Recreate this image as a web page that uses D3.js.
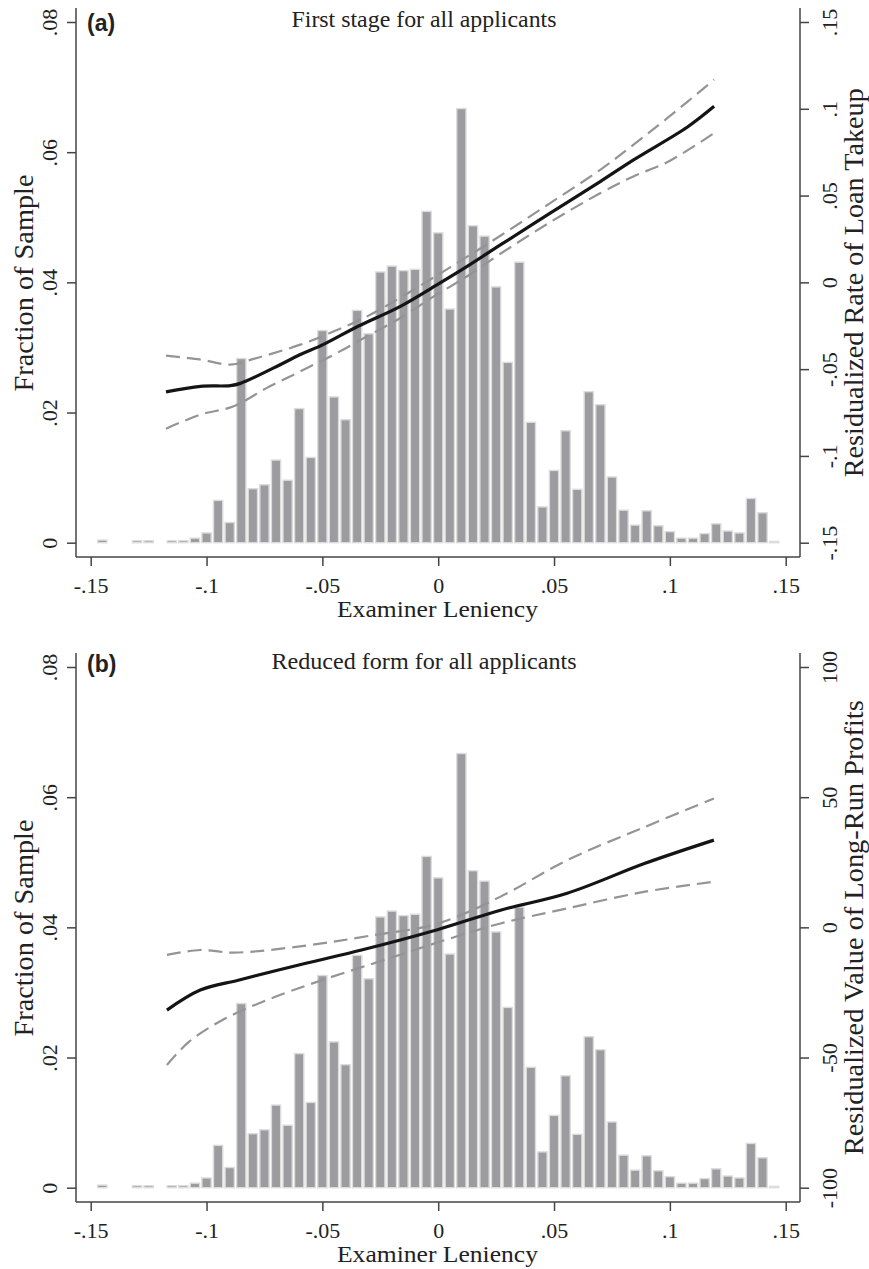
<!DOCTYPE html>
<html>
<head>
<meta charset="utf-8">
<script src="https://cdnjs.cloudflare.com/ajax/libs/d3/7.8.5/d3.min.js"></script>
<style>
  body { margin: 0; background: #fff; }
</style>
</head>
<body>
<div id="chart"></div>
<script>
// histogram: bin centres (examiner leniency) and fraction of sample
var binCenters = [-0.145,-0.14,-0.135,-0.13,-0.125,-0.12,-0.115,-0.11,-0.105,-0.1,
  -0.095,-0.09,-0.085,-0.08,-0.075,-0.07,-0.065,-0.06,-0.055,-0.05,
  -0.045,-0.04,-0.035,-0.03,-0.025,-0.02,-0.015,-0.01,-0.005,0,
  0.005,0.01,0.015,0.02,0.025,0.03,0.035,0.04,0.045,0.05,
  0.055,0.06,0.065,0.07,0.075,0.08,0.085,0.09,0.095,0.1,
  0.105,0.11,0.115,0.12,0.125,0.13,0.135,0.14,0.145];
var binFractions = [0.0004,0,0,0.0003,0.0003,0,0.0003,0.0003,0.0007,0.0015,
  0.0065,0.0031,0.0283,0.0083,0.0089,0.0127,0.0096,0.0206,0.0131,0.0326,
  0.0224,0.0189,0.0357,0.0321,0.0416,0.0425,0.0418,0.0420,0.0509,0.0476,
  0.0359,0.0667,0.0487,0.0471,0.0393,0.0277,0.0431,0.0185,0.0055,0.0111,
  0.0172,0.0082,0.0232,0.0212,0.0101,0.0050,0.0027,0.0049,0.0026,0.0017,
  0.0007,0.0007,0.0014,0.0029,0.0018,0.0015,0.0068,0.0046,0.0002];

var xTicks = [-0.15,-0.1,-0.05,0,0.05,0.1,0.15];
var xTickLabels = ["-.15","-.1","-.05","0",".05",".1",".15"];
var leftTicks = [0,0.02,0.04,0.06,0.08];
var leftTickLabels = ["0",".02",".04",".06",".08"];

// panel a: first stage (residualized rate of loan takeup)
var rightTicksA = [-0.15,-0.1,-0.05,0,0.05,0.1,0.15];
var rightTickLabelsA = ["-.15","-.1","-.05","0",".05",".1",".15"];
var fitA = [[-0.1175,-0.0631],[-0.1026,-0.0599],[-0.0897,-0.0595],[-0.0854,-0.0582],[-0.071,-0.0493],
  [-0.0595,-0.0416],[-0.0497,-0.0359],[-0.0346,-0.0253],[-0.0163,-0.0138],[-0.0004,-0.0013],
  [0.0125,0.0092],[0.027,0.0217],[0.0485,0.040],[0.0701,0.0582],[0.0845,0.0707],[0.1076,0.0895],[0.1191,0.1014]];
var upperA = [[-0.1175,-0.0422],[-0.1026,-0.0445],[-0.0897,-0.0474],[-0.0797,-0.0441],[-0.0595,-0.0359],
  [-0.045,-0.0282],[-0.0307,-0.0196],[-0.0163,-0.0088],[0.0053,0.0088],[0.027,0.027],
  [0.0485,0.0458],[0.0701,0.065],[0.0845,0.0795],[0.099,0.0947],[0.1191,0.1168]];
var lowerA = [[-0.1175,-0.0843],[-0.1026,-0.0762],[-0.0883,-0.0714],[-0.0739,-0.0608],[-0.0595,-0.0513],
  [-0.045,-0.0416],[-0.0307,-0.0311],[-0.0163,-0.0205],[-0.0019,-0.0081],[0.0125,0.0035],
  [0.027,0.0166],[0.0485,0.0348],[0.0701,0.0515],[0.0845,0.0612],[0.099,0.0693],[0.1191,0.086]];

// panel b: reduced form (residualized value of long-run profits)
var rightTicksB = [-100,-50,0,50,100];
var rightTickLabelsB = ["-100","-50","0","50","100"];
var fitB = [[-0.1171,-31.8],[-0.1027,-24.1],[-0.0859,-20.2],[-0.0571,-13.8],[-0.0331,-8.7],
  [0.0,-0.8],[0.0269,6.6],[0.0557,13.1],[0.0893,24.6],[0.119,33.5]];
var upperB = [[-0.1171,-10.6],[-0.1027,-8.7],[-0.0883,-9.7],[-0.0571,-7.0],[-0.03,-3.3],
  [0.0,1.5],[0.0269,11.8],[0.0557,25.8],[0.0893,38.6],[0.119,49.5]];
var lowerB = [[-0.1171,-52.9],[-0.1075,-43.9],[-0.0931,-35.6],[-0.0739,-27.9],[-0.0499,-20.2],
  [-0.0211,-11.9],[0.0029,-4.9],[0.0269,1.5],[0.0557,7.3],[0.0893,13.7],[0.119,17.5]];

var svg = d3.select("#chart").append("svg")
    .attr("width", 869)
    .attr("height", 1269);

var serif = "'Liberation Serif','Times New Roman',serif";
var axisColor = "#444";

function drawPanel(p) {
  var g = svg.append("g").attr("transform", "translate(0," + p.top + ")");

  var x = d3.scaleLinear().domain([-0.15, 0.15]).range([90.7, 785.7]);
  var y = d3.scaleLinear().domain([0, 0.08]).range([542.7, 22]);
  var y2 = d3.scaleLinear().domain(p.rightDomain).range([542.7, 22]);
  var binW = x(0.005) - x(0);

  var bins = binCenters.map(function(c, i) { return {c: c, v: binFractions[i]}; })
    .filter(function(d) { return d.v > 0; });

  //bars
  g.append("g").selectAll("rect")
    .data(bins)
    .enter().append("rect")
      .attr("x", function(d) { return x(d.c) - binW * 0.4; })
      .attr("width", binW * 0.8)
      .attr("y", function(d) { return y(d.v); })
      .attr("height", function(d) { return y(0) - y(d.v); })
      .attr("fill", "#9b9ba0")
      .attr("stroke", "#dcdcdc")
      .attr("stroke-width", 1.4);

  //fit and confidence band
  var line = d3.line()
    .x(function(d) { return x(d[0]); })
    .y(function(d) { return y2(d[1]); })
    .curve(d3.curveCatmullRom.alpha(0.5));

  [p.upper, p.lower].forEach(function(s) {
    g.append("path").datum(s)
      .attr("d", line)
      .attr("fill", "none")
      .attr("stroke", "#949494")
      .attr("stroke-width", 2.2)
      .attr("stroke-dasharray", "14,7");
  });
  g.append("path").datum(p.fit)
    .attr("d", line)
    .attr("fill", "none")
    .attr("stroke", "#141414")
    .attr("stroke-width", 3.2);

  //axis lines
  var frame = [[76, 8, 76, 557], [76, 557, 800, 557], [800, 8, 800, 557]];
  frame.forEach(function(f) {
    g.append("line")
      .attr("x1", f[0]).attr("y1", f[1]).attr("x2", f[2]).attr("y2", f[3])
      .attr("stroke", axisColor).attr("stroke-width", 1.5);
  });

  //x-axis
  var xa = g.append("g")
    .attr("transform", "translate(0,557)")
    .call(d3.axisBottom(x).tickValues(xTicks).tickSize(9)
      .tickFormat(function(d, i) { return xTickLabels[i]; }));
  xa.select(".domain").remove();
  xa.selectAll("line").attr("stroke", axisColor).attr("stroke-width", 1.5);
  xa.selectAll("text")
    .attr("y", 36).attr("dy", 0)
    .attr("fill", "#222")
    .style("font-family", serif).style("font-size", "22px");

  //left y-axis
  var ya = g.append("g")
    .attr("transform", "translate(76,0)")
    .call(d3.axisLeft(y).tickValues(leftTicks).tickSize(9)
      .tickFormat(function(d, i) { return leftTickLabels[i]; }));
  ya.select(".domain").remove();
  ya.selectAll("line").attr("stroke", axisColor).attr("stroke-width", 1.5);
  ya.selectAll("text")
    .attr("transform", "rotate(-90)")
    .attr("x", 0).attr("y", -19.5).attr("dy", 0)
    .attr("text-anchor", "middle")
    .attr("fill", "#222")
    .style("font-family", serif).style("font-size", "22px");

  //right y-axis
  var ra = g.append("g")
    .attr("transform", "translate(800,0)")
    .call(d3.axisRight(y2).tickValues(p.rightTicks).tickSize(9)
      .tickFormat(function(d, i) { return p.rightTickLabels[i]; }));
  ra.select(".domain").remove();
  ra.selectAll("line").attr("stroke", axisColor).attr("stroke-width", 1.5);
  ra.selectAll("text")
    .attr("transform", "rotate(-90)")
    .attr("x", 0).attr("y", 36.5).attr("dy", 0)
    .attr("text-anchor", "middle")
    .attr("fill", "#222")
    .style("font-family", serif).style("font-size", "22px");

  //titles and labels
  g.append("text")
    .attr("x", 424).attr("y", p.titleY)
    .attr("text-anchor", "middle")
    .attr("textLength", p.titleW).attr("lengthAdjust", "spacingAndGlyphs")
    .attr("fill", "#222")
    .style("font-family", serif).style("font-size", "24px")
    .text(p.title);

  g.append("text")
    .attr("x", 87).attr("y", p.labelY)
    .attr("fill", "#222")
    .style("font-family", "'Liberation Sans',Arial,sans-serif")
    .style("font-size", "23px").style("font-weight", "bold")
    .text(p.label);

  g.append("text")
    .attr("x", 437.5).attr("y", 617)
    .attr("text-anchor", "middle")
    .attr("textLength", 201).attr("lengthAdjust", "spacingAndGlyphs")
    .attr("fill", "#222")
    .style("font-family", serif).style("font-size", "23px")
    .text("Examiner Leniency");

  g.append("text")
    .attr("transform", "translate(33,283) rotate(-90)")
    .attr("text-anchor", "middle")
    .attr("textLength", 217).attr("lengthAdjust", "spacingAndGlyphs")
    .attr("fill", "#222")
    .style("font-family", serif).style("font-size", "28px")
    .text("Fraction of Sample");

  g.append("text")
    .attr("transform", "translate(863,282.7) rotate(-90)")
    .attr("text-anchor", "middle")
    .attr("textLength", p.rightTitleW).attr("lengthAdjust", "spacingAndGlyphs")
    .attr("fill", "#222")
    .style("font-family", serif).style("font-size", "28px")
    .text(p.rightTitle);
}

drawPanel({
  top: 0, label: "(a)", labelY: 31,
  title: "First stage for all applicants", titleY: 27, titleW: 265,
  rightDomain: [-0.15, 0.15], rightTicks: rightTicksA, rightTickLabels: rightTickLabelsA,
  rightTitle: "Residualized Rate of Loan Takeup", rightTitleW: 389,
  fit: fitA, upper: upperA, lower: lowerA
});

drawPanel({
  top: 645, label: "(b)", labelY: 27,
  title: "Reduced form for all applicants", titleY: 24, titleW: 305,
  rightDomain: [-100, 100], rightTicks: rightTicksB, rightTickLabels: rightTickLabelsB,
  rightTitle: "Residualized Value of Long-Run Profits", rightTitleW: 455,
  fit: fitB, upper: upperB, lower: lowerB
});
</script>
</body>
</html>
